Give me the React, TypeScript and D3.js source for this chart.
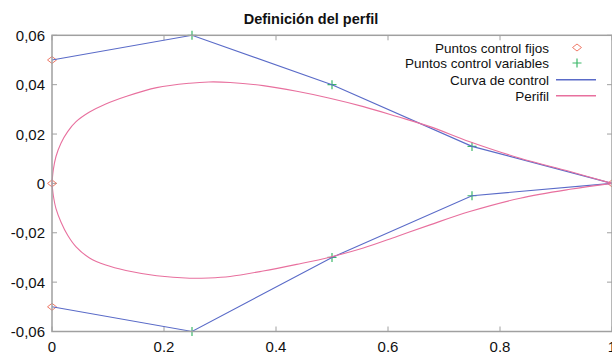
import React from "react";
import * as d3 from "d3";

const W = 612;
const H = 352;

const title = "Definición del perfil";
const xTicks = [0, 0.2, 0.4, 0.6, 0.8, 1];
const yTicks = [-0.06, -0.04, -0.02, 0, 0.02, 0.04, 0.06];

const fixedX = [0, 0, 0, 1];
const fixedY = [0.05, 0, -0.05, 0];

const varX = [0.25, 0.5, 0.75, 0.25, 0.5, 0.75];
const varY = [0.06, 0.04, 0.015, -0.06, -0.03, -0.005];

const ctrlUpperX = [0, 0.25, 0.5, 0.75, 1];
const ctrlUpperY = [0.05, 0.06, 0.04, 0.015, 0];
const ctrlLowerX = [0, 0.25, 0.5, 0.75, 1];
const ctrlLowerY = [-0.05, -0.06, -0.03, -0.005, 0];

const perfilUpperX = [0, 0.0023, 0.0071, 0.016, 0.028, 0.043, 0.067, 0.096, 0.132, 0.187, 0.246, 0.28, 0.318, 0.377, 0.437, 0.496, 0.556, 0.616, 0.675, 0.746, 0.836, 0.925, 1];
const perfilUpperY = [0, 0.0055, 0.0109, 0.0163, 0.021, 0.025, 0.0289, 0.0322, 0.0352, 0.0388, 0.0406, 0.0411, 0.0409, 0.0396, 0.0373, 0.0345, 0.0311, 0.0271, 0.023, 0.0169, 0.0102, 0.0048, 0];
const perfilLowerX = [0, 0.0023, 0.0071, 0.016, 0.028, 0.043, 0.067, 0.096, 0.132, 0.187, 0.246, 0.28, 0.318, 0.377, 0.437, 0.496, 0.556, 0.616, 0.675, 0.746, 0.836, 0.925, 1];
const perfilLowerY = [0, -0.0048, -0.0102, -0.0156, -0.021, -0.0257, -0.0302, -0.0331, -0.0353, -0.0374, -0.0384, -0.0383, -0.0377, -0.0355, -0.0328, -0.0299, -0.0262, -0.0215, -0.0168, -0.0114, -0.006, -0.0024, 0];

const legendLabels = ["Puntos control fijos", "Puntos control variables", "Curva de control", "Perifil"];

const C_FIXED = "#f07a68";
const C_VAR = "#3cb86a";
const C_CTRL = "#5a6bc8";
const C_PERF = "#e8709e";
const C_AXIS = "#a0a0a0";
const FONT = "'Liberation Sans', Arial, Helvetica, sans-serif";

export default function App() {
  const x = d3.scaleLinear().domain([0, 1]).range([52, 612]);
  const y = d3.scaleLinear().domain([-0.06, 0.06]).range([331.5, 35.3]);
  const line = d3
    .line<[number, number]>()
    .x((d) => x(d[0]))
    .y((d) => y(d[1]))
    .curve(d3.curveCatmullRom.alpha(0.5));
  const poly = d3
    .line<[number, number]>()
    .x((d) => x(d[0]))
    .y((d) => y(d[1]));
  const zip = (a: number[], b: number[]) => a.map((v, i) => [v, b[i]] as [number, number]);
  const fmt = (v: number) => {
    if (Math.abs(v) < 1e-9) return "0";
    return d3.format(".2f")(v).replace(".", ",").replace("−", "-");
  };
  const fmtX = (v: number) => (v === 0 ? "0" : v === 1 ? "1" : d3.format(".1f")(v));
  const [x0, x1] = x.range();
  const [yb, yt] = y.range();
  const diamond = (cx: number, cy: number) => `M${cx - 4.5},${cy}L${cx},${cy - 3.5}L${cx + 4.5},${cy}L${cx},${cy + 3.5}Z`;
  const plus = (cx: number, cy: number) => `M${cx - 4.5},${cy}H${cx + 4.5}M${cx},${cy - 4.5}V${cy + 4.5}`;
  const legY = [47.5, 63, 79.5, 95.5];
  const legTextX = 549;
  const legSymX = 577;

  return (
    <svg width={W} height={H} style={{ position: "absolute", left: 0, top: 0, background: "#fff" }} fontFamily={FONT}>
      <rect x={0} y={0} width={W} height={H} fill="#fff" />
      <text x={311} y={24} textAnchor="middle" fontSize={14.5} fontWeight="bold" fill="#111">
        {title}
      </text>
      {xTicks.map((t) => (
        <g key={"xt" + t}>
          <line x1={x(t)} x2={x(t)} y1={yb} y2={yb - 5} stroke={C_AXIS} />
          <line x1={x(t)} x2={x(t)} y1={yt} y2={yt + 5} stroke={C_AXIS} />
          <text x={x(t)} y={351.5} textAnchor="middle" fontSize={15} fill="#111">
            {fmtX(t)}
          </text>
        </g>
      ))}
      {yTicks.map((t) => (
        <g key={"yt" + t}>
          <line x1={x0} x2={x0 + 5} y1={y(t)} y2={y(t)} stroke={C_AXIS} />
          <line x1={x1} x2={x1 - 5} y1={y(t)} y2={y(t)} stroke={C_AXIS} />
          <text x={45} y={y(t) + 5.5} textAnchor="end" fontSize={15} fill="#111">
            {fmt(t)}
          </text>
        </g>
      ))}
      {fixedX.map((v, i) => (
        <path key={"f" + i} d={diamond(x(v), y(fixedY[i]))} fill="none" stroke={C_FIXED} strokeWidth={1} />
      ))}
      {varX.map((v, i) => (
        <path key={"v" + i} d={plus(x(v), y(varY[i]))} fill="none" stroke={C_VAR} strokeWidth={1.2} />
      ))}
      <path d={poly(zip(ctrlUpperX, ctrlUpperY)) || ""} fill="none" stroke={C_CTRL} strokeWidth={1.1} />
      <path d={poly(zip(ctrlLowerX, ctrlLowerY)) || ""} fill="none" stroke={C_CTRL} strokeWidth={1.1} />
      <path d={line(zip(perfilUpperX, perfilUpperY)) || ""} fill="none" stroke={C_PERF} strokeWidth={1.1} />
      <path d={line(zip(perfilLowerX, perfilLowerY)) || ""} fill="none" stroke={C_PERF} strokeWidth={1.1} />
      <rect x={x0} y={yt} width={x1 - x0} height={yb - yt} fill="none" stroke={C_AXIS} strokeWidth={1.5} />
      {legendLabels.map((l, i) => (
        <text key={"lt" + i} x={legTextX} y={legY[i] + 5} textAnchor="end" fontSize={13.5} fill="#111">
          {l}
        </text>
      ))}
      <path d={diamond(legSymX, legY[0])} fill="none" stroke={C_FIXED} strokeWidth={1} />
      <path d={plus(legSymX, legY[1])} fill="none" stroke={C_VAR} strokeWidth={1.2} />
      <rect x={556} y={79} width={40} height={1.5} fill={C_CTRL} />
      <rect x={556} y={95} width={40} height={1.5} fill={C_PERF} />
    </svg>
  );
}
